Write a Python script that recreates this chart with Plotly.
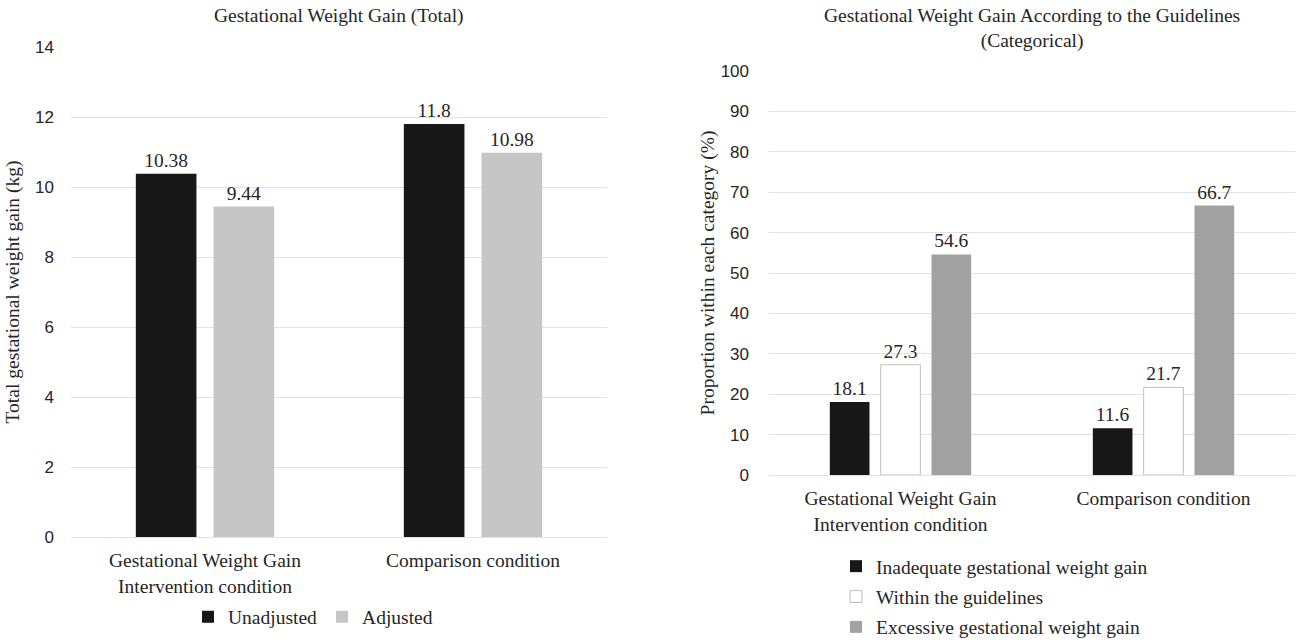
import plotly.graph_objects as go

# ---- data ----
conditions = ["Gestational Weight Gain<br>Intervention condition", "Comparison condition"]
unadjusted = [10.38, 11.8]
adjusted = [9.44, 10.98]
unadj_labels = ["10.38", "11.8"]
adj_labels = ["9.44", "10.98"]

inadequate = [18.1, 11.6]
within = [27.3, 21.7]
excessive = [54.6, 66.7]

left_ticks = [0, 2, 4, 6, 8, 10, 12, 14]
right_ticks = [0, 10, 20, 30, 40, 50, 60, 70, 80, 90, 100]

SERIF = "Liberation Serif, Times New Roman, serif"
SANS = "Liberation Sans, Arial, sans-serif"
W, H = 1297, 642
FS = 19.5
TC = "#262626"

fig = go.Figure()

fig.add_trace(go.Bar(x=conditions, y=unadjusted, name="Unadjusted", text=unadj_labels,
                     textposition="outside", cliponaxis=False,
                     marker=dict(color="#171717", line=dict(width=0)),
                     xaxis="x", yaxis="y", legend="legend"))
fig.add_trace(go.Bar(x=conditions, y=adjusted, name="Adjusted", text=adj_labels,
                     textposition="outside", cliponaxis=False,
                     marker=dict(color="#C5C6C5", line=dict(width=0)),
                     xaxis="x", yaxis="y", legend="legend"))

fig.add_trace(go.Bar(x=conditions, y=inadequate, name="Inadequate gestational weight gain",
                     text=[str(v) for v in inadequate], textposition="outside", cliponaxis=False,
                     marker=dict(color="#171717", line=dict(width=0)),
                     xaxis="x2", yaxis="y2", legend="legend2", legendgroup="a"))
fig.add_trace(go.Bar(x=conditions, y=within, name="Within the guidelines",
                     text=[str(v) for v in within], textposition="outside", cliponaxis=False,
                     marker=dict(color="#FFFFFF", line=dict(width=1, color="#BFBFBF")),
                     xaxis="x2", yaxis="y2", legend="legend2", legendgroup="b"))
fig.add_trace(go.Bar(x=conditions, y=excessive, name="Excessive gestational weight gain",
                     text=[str(v) for v in excessive], textposition="outside", cliponaxis=False,
                     marker=dict(color="#A1A1A1", line=dict(width=0)),
                     xaxis="x2", yaxis="y2", legend="legend2", legendgroup="c"))

fig.update_traces(textfont=dict(family=SERIF, size=FS, color=TC))

def px_x(p):
    return p / W

def px_y(p):
    return 1 - p / H

grid = "#E3E3E3"

fig.update_layout(
    width=W, height=H,
    margin=dict(l=0, r=0, t=0, b=0, autoexpand=False),
    paper_bgcolor="white", plot_bgcolor="white",
    barmode="group",
    font=dict(family=SERIF, size=FS, color=TC),
    xaxis=dict(domain=[px_x(71), px_x(607)], anchor="y", showgrid=False, showline=True,
               linecolor=grid, linewidth=1, ticks="", ticklabelstandoff=6, automargin=False,
               tickfont=dict(family=SERIF, size=FS, color=TC), fixedrange=True),
    yaxis=dict(domain=[px_y(537), px_y(47)], anchor="x", range=[0, 14], tickvals=left_ticks,
               showgrid=True, gridcolor=grid, gridwidth=1, zeroline=False, showline=False,
               ticks="", ticklabelstandoff=16, automargin=False,
               tickfont=dict(family=SANS, size=17, color=TC),
               title=dict(text="Total gestational weight gain (kg)", standoff=10,
                          font=dict(family=SERIF, size=FS, color=TC))),
    xaxis2=dict(domain=[px_x(769), px_x(1295)], anchor="y2", showgrid=False, showline=True,
                linecolor=grid, linewidth=1, ticks="", ticklabelstandoff=6, automargin=False,
                tickfont=dict(family=SERIF, size=FS, color=TC)),
    yaxis2=dict(domain=[px_y(475), px_y(71)], anchor="x2", range=[0, 100], tickvals=right_ticks,
                showgrid=True, gridcolor=grid, gridwidth=1, zeroline=False, showline=False,
                ticks="", ticklabelstandoff=19, automargin=False,
                tickfont=dict(family=SANS, size=17, color=TC),
                title=dict(text="Proportion within each category (%)", standoff=0,
                           font=dict(family=SERIF, size=FS, color=TC))),
    legend=dict(orientation="h", x=px_x(313), xanchor="center", y=px_y(617), yanchor="middle",
                font=dict(family=SERIF, size=FS, color=TC), bgcolor="rgba(0,0,0,0)",
                itemwidth=30),
    legend2=dict(orientation="v", x=px_x(836), xanchor="left", y=px_y(547), yanchor="top",
                 font=dict(family=SERIF, size=FS, color=TC), bgcolor="rgba(0,0,0,0)",
                 tracegroupgap=2, itemwidth=30),
    annotations=[
        dict(text="Gestational Weight Gain (Total)", x=(px_x(71) + px_x(607)) / 2, y=px_y(16),
             xref="paper", yref="paper", showarrow=False, xanchor="center", yanchor="middle",
             font=dict(family=SERIF, size=FS, color=TC)),
        dict(text="Gestational Weight Gain According to the Guidelines<br>(Categorical)",
             x=(px_x(769) + px_x(1295)) / 2, y=px_y(28),
             xref="paper", yref="paper", showarrow=False, xanchor="center", yanchor="middle",
             font=dict(family=SERIF, size=FS, color=TC)),
    ],
    bargap=0.42, bargroupgap=0.22,
)

fig.write_html("out.html", config={"displayModeBar": False},
               post_script="document.body.style.margin='0';")
